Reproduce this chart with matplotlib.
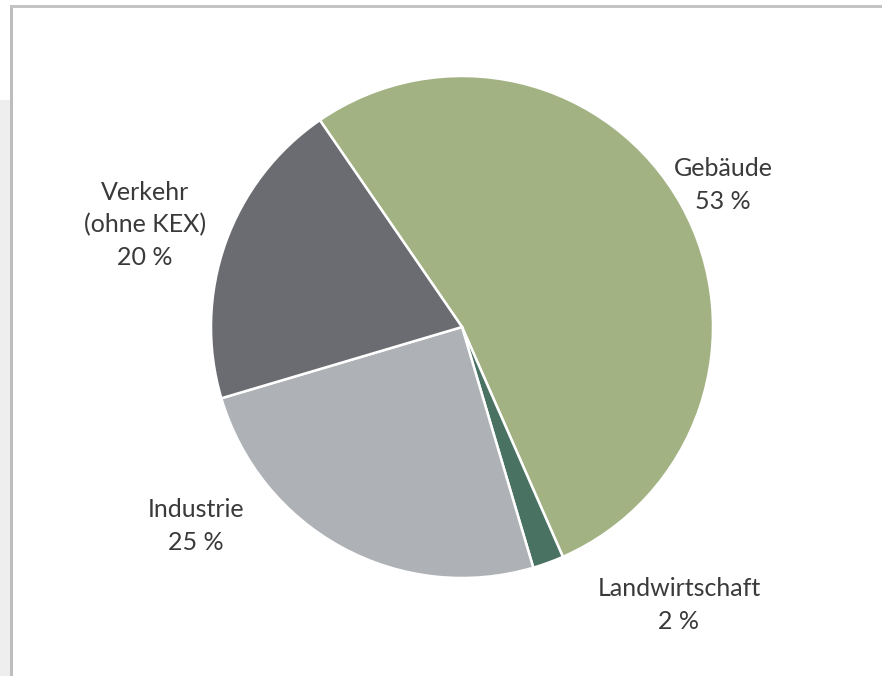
import matplotlib
matplotlib.use("Agg")
import matplotlib.pyplot as plt
from matplotlib.patches import Rectangle

# Data
categories = ["Gebäude", "Landwirtschaft", "Industrie", "Verkehr\n(ohne KEX)"]
values = [53, 2, 25, 20]
colors = ["#a2b283", "#4a7262", "#aeb1b5", "#6b6c72"]
label_texts = ["Gebäude\n53 %", "Landwirtschaft\n2 %", "Industrie\n25 %", "Verkehr\n(ohne KEX)\n20 %"]
label_pos = [(723, 185), (679, 605), (196, 526), (145, 225)]  # pixel positions

W, H = 882, 676
fig = plt.figure(figsize=(W / 100, H / 100), dpi=100)
fig.patch.set_facecolor("white")

# decorative frame
fig.patches.append(Rectangle((0, 0), 10 / W, (H - 100) / H, transform=fig.transFigure,
                             facecolor="#eeeeee", edgecolor="none", zorder=0))
fig.patches.append(Rectangle((10 / W, 0), 2.5 / W, (H - 5) / H, transform=fig.transFigure,
                             facecolor="#bdbdbd", edgecolor="none", zorder=1))
fig.patches.append(Rectangle((10 / W, (H - 8) / H), 1 - 10 / W, 3 / H, transform=fig.transFigure,
                             facecolor="#c4c4c4", edgecolor="none", zorder=1))

ax = fig.add_axes([0, 0, 1, 1])
cx, cy, r = 462, H - 327, 251
ax.pie(values, colors=colors, startangle=124.5, counterclock=False,
       center=(cx, cy), radius=r,
       wedgeprops=dict(edgecolor="white", linewidth=1.8))
ax.set_xlim(0, W)
ax.set_ylim(0, H)
ax.set_aspect("equal")
ax.axis("off")

for txt, (px, py) in zip(label_texts, label_pos):
    ax.text(px, H - py, txt, ha="center", va="center", fontsize=18,
            family="Lato", color="#3a3a3a", linespacing=1.5)

fig.savefig("out.png", dpi=100)
